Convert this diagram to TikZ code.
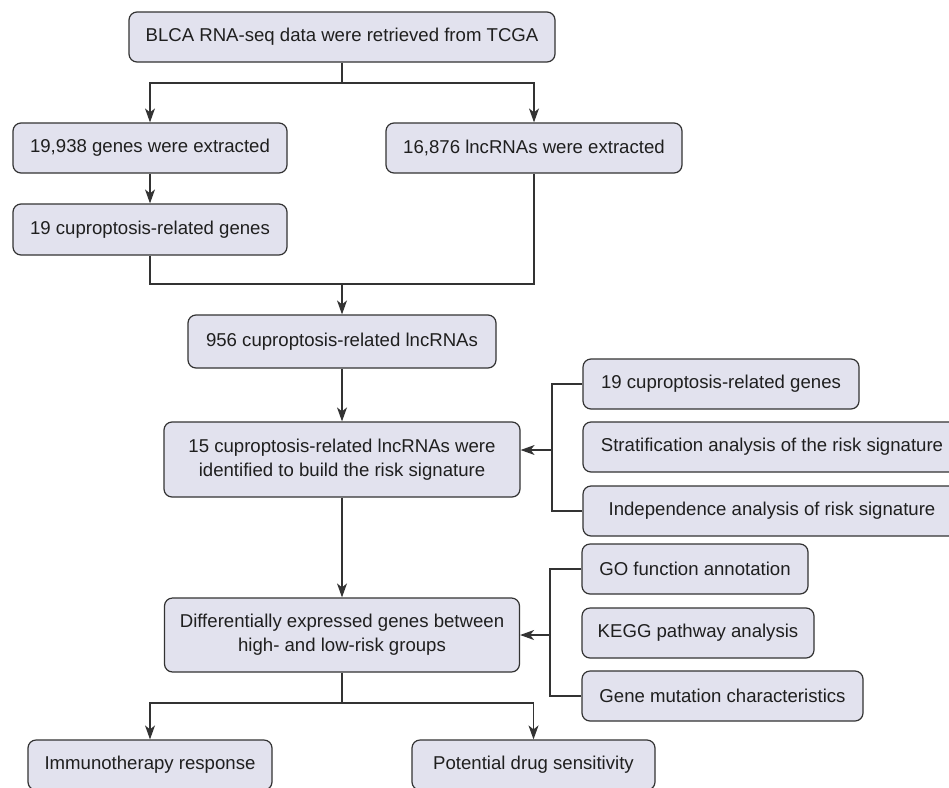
\documentclass[tikz,border=0pt]{standalone}
\usepackage{fontspec}
\setmainfont{Liberation Sans}
\usepackage{tikz}
\usetikzlibrary{arrows.meta}
\definecolor{boxfill}{HTML}{E2E2EE}
\definecolor{boxline}{HTML}{333333}

\begin{document}
\begin{tikzpicture}[x=1pt, y=-1pt,
  box/.style={draw=boxline, fill=boxfill, line width=1.2pt, rounded corners=8pt,
    align=center, inner sep=0pt, text=black!88,
    font=\fontsize{18.6}{24}\selectfont},
  link/.style={draw=boxline, line width=1.2pt},
  arr/.style={link, -{Stealth[length=14pt, width=10pt, inset=4pt]}}]
\useasboundingbox (0,0) rectangle (949,787);

% Data source
\node[box, minimum width=426pt, minimum height=50pt] (tcga) at (342,37) {BLCA RNA-seq data were retrieved from TCGA};

% Extraction
\node[box, minimum width=274pt, minimum height=50pt] (genes) at (150,148) {19,938 genes were extracted};
\node[box, minimum width=296pt, minimum height=50pt] (lnc) at (534,148) {16,876 lncRNAs were extracted};
\node[box, minimum width=274pt, minimum height=51pt] (cugenes) at (150,229.5) {19 cuproptosis-related genes};

% Main column
\node[box, minimum width=308pt, minimum height=53pt] (culnc) at (342,341.5) {956 cuproptosis-related lncRNAs};
\node[box, minimum width=356pt, minimum height=75pt] (sig) at (342,459.5) {15 cuproptosis-related lncRNAs were\\identified to build the risk signature};
\node[box, minimum width=355pt, minimum height=74pt] (deg) at (342,635) {Differentially expressed genes between\\high- and low-risk groups};

% Outcomes
\node[box, minimum width=244pt, minimum height=50pt] (immuno) at (150,765) {Immunotherapy response};
\node[box, minimum width=243pt, minimum height=50pt] (drug) at (533.5,765) {Potential drug sensitivity};

% Signature analyses
\node[box, minimum width=276pt, minimum height=50pt] (sigA) at (721,384) {19 cuproptosis-related genes};
\node[box, minimum width=378pt, minimum height=50pt] (sigB) at (772,447) {Stratification analysis of the risk signature};
\node[box, minimum width=378pt, minimum height=50pt] (sigC) at (772,511) {Independence analysis of risk signature};

% DEG analyses
\node[box, minimum width=226pt, minimum height=50pt] (degA) at (695,569) {GO function annotation};
\node[box, minimum width=232pt, minimum height=50pt] (degB) at (698,633) {KEGG pathway analysis};
\node[box, minimum width=281pt, minimum height=50pt] (degC) at (722.5,696) {Gene mutation characteristics};

% Split after TCGA
\coordinate (split1) at (342,83);
\draw[link] (tcga.south) -- (split1);
\draw[arr] (split1) -| (genes.north);
\draw[arr] (split1) -| (lnc.north);
\draw[arr] (genes) -- (cugenes);

% Merge into lncRNAs
\coordinate (merge1) at (342,284);
\draw[link] (cugenes.south) |- (merge1) -| (lnc.south);
\draw[arr] (merge1) -- (culnc.north);
\draw[arr] (culnc) -- (sig);
\draw[arr] (sig) -- (deg);

% Brackets
\coordinate (brk1) at (552,450);
\draw[link] (sigA.west) -| (brk1) |- (sigC.west);
\draw[arr] (brk1) -- (sig.east |- brk1);
\coordinate (brk2) at (550,635);
\draw[link] (degA.west) -| (brk2) |- (degC.west);
\draw[arr] (brk2) -- (deg.east |- brk2);

% Split to outcomes
\coordinate (split2) at (342,703);
\draw[link] (deg.south) -- (split2);
\draw[arr] (split2) -| (immuno.north);
\draw[arr] (split2) -| (drug.north);
\end{tikzpicture}
\end{document}
